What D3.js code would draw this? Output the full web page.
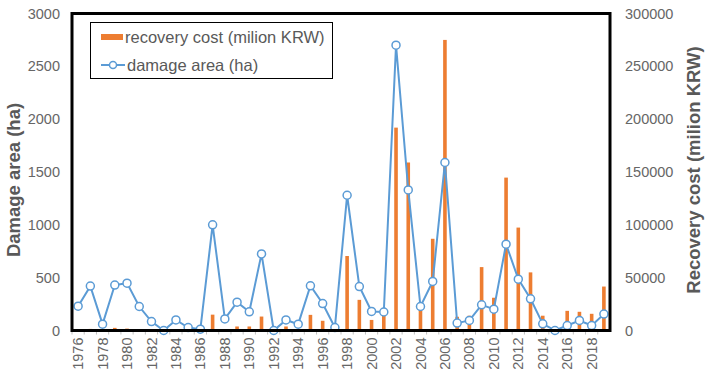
<!DOCTYPE html>
<html>
<head>
<meta charset="utf-8">
<script src="https://cdn.jsdelivr.net/npm/d3@7"></script>
<style>
  body { margin: 0; background: #fff; }
  svg { font-family: "Liberation Sans", Arial, sans-serif; }
</style>
</head>
<body>
<svg class="chart" width="709" height="385"></svg>
<script>
var years = d3.range(1976, 2020);
// damage area (ha), left axis
var damageArea = [230, 420, 60, 430, 448, 227, 85, 0, 100, 28, 13, 1000, 110, 268, 177, 725,
                  0, 100, 60, 423, 255, 28, 1280, 416, 180, 175, 2700, 1330, 227, 464, 1590,
                  70, 95, 243, 202, 817, 486, 300, 63, 0, 47, 95, 47, 155];
// recovery cost (milion KRW), right axis
var recoveryCost = [0, 1500, 0, 2500, 1800, 800, 0, 0, 800, 0, 0, 15000, 500, 3800, 3800, 13200,
                    0, 3800, 1000, 14800, 9200, 2000, 70500, 29000, 10000, 17000, 192000, 159000, 23000, 86800, 275000,
                    13000, 14000, 60000, 31000, 144700, 97400, 55000, 14000, 0, 18600, 17700, 15800, 41600];
var leftTicks = [0, 500, 1000, 1500, 2000, 2500, 3000];
var rightTicks = [0, 50000, 100000, 150000, 200000, 250000, 300000];

var plotLeft = 72, plotRight = 610, plotTop = 13.5, plotBottom = 330.5;
var orange = "#ED7D31", blue = "#5B9BD5", grey = "#595959", tickGrey = "#666";

var svg = d3.select(".chart");

var x = d3.scaleBand().domain(years).range([plotLeft, plotRight]);
var yL = d3.scaleLinear().domain([0, 3000]).range([plotBottom, plotTop]);
var yR = d3.scaleLinear().domain([0, 300000]).range([plotBottom, plotTop]);

function cx(i) { return x(years[i]) + x.bandwidth() / 2; }

// bars
var barW = 3.6;
svg.append("g").selectAll("rect")
    .data(recoveryCost)
    .enter().append("rect")
    .attr("x", function(d, i) { return cx(i) - barW / 2; })
    .attr("y", function(d) { return yR(d); })
    .attr("width", barW)
    .attr("height", function(d) { return plotBottom - yR(d); })
    .attr("fill", orange);

// line
var line = d3.line()
    .x(function(d, i) { return cx(i); })
    .y(function(d) { return yL(d); });

svg.append("path")
    .datum(damageArea)
    .attr("d", line)
    .attr("fill", "none")
    .attr("stroke", blue)
    .attr("stroke-width", 2);

svg.append("g").selectAll("circle")
    .data(damageArea)
    .enter().append("circle")
    .attr("cx", function(d, i) { return cx(i); })
    .attr("cy", function(d) { return yL(d); })
    .attr("r", 4)
    .attr("fill", "#fff")
    .attr("stroke", blue)
    .attr("stroke-width", 1.5);

// left axis
var axL = svg.append("g")
    .attr("transform", "translate(" + plotLeft + ",0)")
    .call(d3.axisLeft(yL).tickValues(leftTicks).tickFormat(d3.format("d")).tickSize(0).tickPadding(12));
axL.select(".domain").remove();
axL.selectAll("text").attr("font-size", 14.5).attr("fill", tickGrey).attr("font-family", "Liberation Sans, Arial");

// right axis
var axR = svg.append("g")
    .attr("transform", "translate(" + plotRight + ",0)")
    .call(d3.axisRight(yR).tickValues(rightTicks).tickFormat(d3.format("d")).tickSize(0).tickPadding(15));
axR.select(".domain").remove();
axR.selectAll("text").attr("font-size", 14.5).attr("fill", tickGrey).attr("font-family", "Liberation Sans, Arial");

// bottom axis
var axB = svg.append("g")
    .attr("transform", "translate(0," + plotBottom + ")")
    .call(d3.axisBottom(x).tickValues(years.filter(function(y) { return y % 2 === 0; })).tickSize(0));
axB.select(".domain").remove();
axB.selectAll("text")
    .attr("font-size", 14.5)
    .attr("fill", tickGrey)
    .attr("font-family", "Liberation Sans, Arial")
    .attr("transform", "rotate(-90)")
    .attr("text-anchor", "end")
    .attr("x", -7)
    .attr("y", 0)
    .attr("dy", "0.35em");

// minor tick marks at category boundaries
svg.append("g").selectAll("line")
    .data(years)
    .enter().append("line")
    .attr("x1", function(d) { return x(d); })
    .attr("x2", function(d) { return x(d); })
    .attr("y1", plotBottom)
    .attr("y2", plotBottom + 4)
    .attr("stroke", "#bfbfbf")
    .attr("stroke-width", 1);

// frame
svg.append("rect")
    .attr("x", plotLeft)
    .attr("y", plotTop)
    .attr("width", plotRight - plotLeft)
    .attr("height", plotBottom - plotTop)
    .attr("fill", "none")
    .attr("stroke", "#000")
    .attr("stroke-width", 3);

// axis titles
svg.append("text")
    .attr("transform", "translate(14," + 180 + ") rotate(-90)")
    .attr("text-anchor", "middle")
    .attr("dy", "0.35em")
    .attr("font-size", 18.5)
    .attr("font-weight", "bold")
    .attr("fill", grey)
    .text("Damage area (ha)");

svg.append("text")
    .attr("transform", "translate(694," + 170 + ") rotate(-90)")
    .attr("text-anchor", "middle")
    .attr("dy", "0.35em")
    .attr("font-size", 18.5)
    .attr("font-weight", "bold")
    .attr("fill", grey)
    .text("Recovery cost (milion KRW)");

// legend
var lg = svg.append("g");
lg.append("rect")
    .attr("x", 90.5).attr("y", 22.5).attr("width", 242).attr("height", 56)
    .attr("fill", "#fff").attr("stroke", "#000").attr("stroke-width", 1);
lg.append("rect")
    .attr("x", 101).attr("y", 34).attr("width", 22).attr("height", 6)
    .attr("fill", orange);
lg.append("text")
    .attr("x", 125).attr("y", 37).attr("dy", "0.35em")
    .attr("font-size", 16.5).attr("fill", grey)
    .text("recovery cost (milion KRW)");
lg.append("line")
    .attr("x1", 101).attr("x2", 125).attr("y1", 65).attr("y2", 65)
    .attr("stroke", blue).attr("stroke-width", 2);
lg.append("circle")
    .attr("cx", 113).attr("cy", 65).attr("r", 3.5)
    .attr("fill", "#fff").attr("stroke", blue).attr("stroke-width", 1.5);
lg.append("text")
    .attr("x", 127).attr("y", 65).attr("dy", "0.35em")
    .attr("font-size", 16.5).attr("fill", grey)
    .text("damage area (ha)");
</script>
</body>
</html>
